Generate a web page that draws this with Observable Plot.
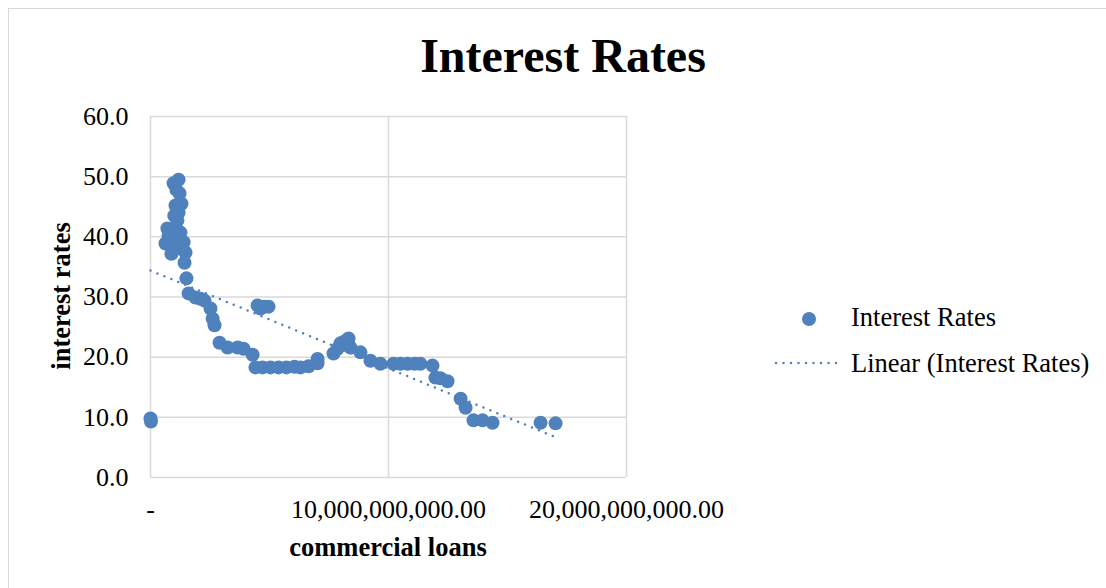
<!DOCTYPE html>
<html><head><meta charset="utf-8">
<script src="https://cdn.jsdelivr.net/npm/d3@7"></script>
<script src="https://cdn.jsdelivr.net/npm/@observablehq/plot@0.6"></script>
<style>
body{margin:0;background:#fff;}
#wrap{position:relative;width:1106px;height:588px;overflow:hidden;font-family:"Liberation Serif","Times New Roman",serif;color:#000;}
#frame{position:absolute;left:8px;top:8px;width:1200px;height:700px;border:1px solid #d9d9d9;}
#title{position:absolute;left:0;width:1126px;top:28px;text-align:center;font-weight:bold;font-size:48px;line-height:56px;}
#chart{position:absolute;left:0;top:0;}
.leg{position:absolute;font-size:26.5px;line-height:30px;white-space:nowrap;}
.axt{position:absolute;font-size:26.5px;line-height:30px;font-weight:bold;text-align:center;white-space:nowrap;}
.legsym{position:absolute;}
</style></head>
<body>
<div id="wrap">
  <div id="frame"></div>
  <div id="chart"></div>
  <div id="title">Interest Rates</div>
  <div class="axt" style="left:238px;width:300px;top:532px">commercial loans</div>
  <div class="axt" style="left:-89px;width:300px;top:281px;transform:rotate(-90deg)">interest rates</div>
  <svg class="legsym" style="left:770px;top:305px" width="80" height="70">
    <circle cx="39" cy="14" r="7" fill="#4f81bd"></circle>
    <line x1="6" y1="58" x2="72" y2="58" stroke="#4f81bd" stroke-width="2.5" stroke-dasharray="0 7.5" stroke-linecap="round"></line>
  </svg>
  <div class="leg" style="left:851px;top:302px">Interest Rates</div>
  <div class="leg" style="left:851px;top:348px">Linear (Interest Rates)</div>
</div>
<script>
// commercial loans (currency units) and interest rates (%)
const loans = [
  0.00e9, 0.02e9,
  1.18e9, 0.97e9, 1.09e9, 1.22e9, 1.05e9, 1.30e9, 1.18e9, 1.00e9, 1.13e9, 0.71e9, 1.01e9, 1.26e9,
  0.76e9, 1.09e9, 0.63e9, 0.92e9, 1.18e9, 0.88e9, 1.39e9, 1.47e9, 1.43e9, 1.51e9,
  1.60e9, 1.89e9, 2.10e9, 2.27e9, 2.52e9, 2.61e9, 2.69e9, 2.90e9, 3.24e9, 3.66e9, 3.91e9, 4.29e9,
  4.41e9, 4.71e9, 5.04e9, 5.38e9, 5.71e9, 6.05e9, 6.30e9, 6.64e9, 7.02e9, 7.02e9,
  4.50e9, 4.62e9, 4.79e9, 4.96e9,
  7.69e9, 7.86e9, 7.98e9, 8.15e9, 8.32e9, 8.40e9, 8.82e9, 9.24e9, 9.66e9, 10.21e9, 10.50e9, 10.80e9,
  11.10e9, 11.34e9, 11.85e9, 11.97e9, 12.18e9, 12.48e9, 13.03e9, 13.24e9, 13.57e9, 13.95e9, 14.37e9,
  16.39e9, 17.02e9
];
const rates = [
  9.8, 9.3,
  49.5, 48.9, 47.8, 47.2, 45.2, 45.5, 44.0, 43.5, 42.7, 41.4, 41.4, 40.7,
  40.1, 39.7, 38.9, 38.4, 38.1, 37.2, 39.1, 37.4, 35.7, 33.1,
  30.6, 29.9, 29.7, 29.4, 28.1, 26.4, 25.3, 22.4, 21.6, 21.6, 21.4, 20.4,
  18.3, 18.3, 18.3, 18.3, 18.3, 18.4, 18.3, 18.5, 19.0, 19.7,
  28.6, 28.1, 28.4, 28.4,
  20.6, 21.4, 22.3, 22.6, 23.1, 21.6, 20.8, 19.4, 18.9, 18.9, 18.9, 18.9,
  18.9, 18.9, 18.6, 16.6, 16.5, 16.0, 13.1, 11.6, 9.5, 9.5, 9.1,
  9.1, 9.0
];
// linear trendline endpoints
const trendLoans = [0, 17.02e9];
const trendRates = [34.4, 6.7];
const xTicks = [0, 10e9, 20e9];
const yTicks = [0, 10, 20, 30, 40, 50, 60];

const points = loans.map((x, i) => ({x, y: rates[i]}));
const trend = trendLoans.map((x, i) => ({x, y: trendRates[i]}));
const blue = "#4f81bd";
const fmt = d3.format(",.2f");

const chart = Plot.plot({
  width: 1106,
  height: 588,
  marginLeft: 150,
  marginRight: 480,
  marginTop: 116,
  marginBottom: 111,
  style: {fontFamily: "'Liberation Serif','Times New Roman',serif", fontSize: "26px", color: "#000", background: "transparent"},
  x: {domain: [0, 20e9]},
  y: {domain: [0, 60]},
  marks: [
    Plot.gridX(xTicks, {stroke: "#d9d9d9", strokeOpacity: 1, strokeWidth: 1.5}),
    Plot.gridY(yTicks, {stroke: "#d9d9d9", strokeOpacity: 1, strokeWidth: 1.5}),
    Plot.axisX(xTicks, {tickSize: 0, tickPadding: 22, tickFormat: d => d === 0 ? "-" : fmt(d),
      label: null, fill: "#000", fontSize: 26}),
    Plot.axisY(yTicks, {tickSize: 0, tickPadding: 22, tickFormat: d => d.toFixed(1),
      label: null, fill: "#000", fontSize: 26}),
    Plot.dot(points, {x: "x", y: "y", r: 7, fill: blue, stroke: "none"}),
    Plot.line(trend, {x: "x", y: "y", stroke: blue, strokeWidth: 2.5, strokeDasharray: "0 7.5", strokeLinecap: "round"})
  ]
});
document.getElementById("chart").appendChild(chart);
</script>
</body></html>
